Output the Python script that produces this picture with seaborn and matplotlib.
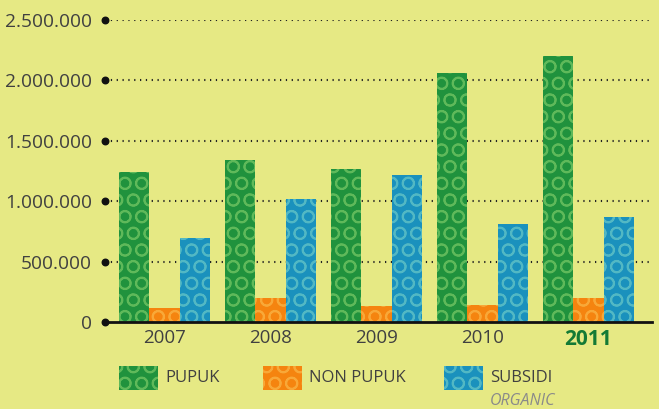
import matplotlib
matplotlib.use("Agg")
import matplotlib.pyplot as plt
import seaborn as sns
import pandas as pd
from matplotlib.patches import Rectangle

years = ["2007", "2008", "2009", "2010", "2011"]
series = ["PUPUK", "NON PUPUK", "SUBSIDI"]
pupuk = [1245000, 1345000, 1270000, 2060000, 2200000]
non_pupuk = [115000, 200000, 133000, 140000, 200000]
subsidi = [695000, 1020000, 1220000, 815000, 872000]

bg = "#E6E984"
fills = {"PUPUK": "#20923D", "NON PUPUK": "#F5840F", "SUBSIDI": "#1A91BD"}
bubbles = {"PUPUK": "#5FB95A", "NON PUPUK": "#F8A838", "SUBSIDI": "#52B8C4"}

df = pd.DataFrame({
    "year": years * 3,
    "series": [s for s in series for _ in years],
    "value": pupuk + non_pupuk + subsidi,
})

sns.set_style("white")
plt.rcParams["font.family"] = ["Open Sans", "DejaVu Sans"]
plt.rcParams["hatch.linewidth"] = 1.3

fig = plt.figure(figsize=(6.59, 4.09), dpi=100, facecolor=bg)
ax = fig.add_axes([105 / 659, 87 / 409, 547 / 659, 302 / 409])
ax.set_facecolor(bg)

ax.set_axisbelow(True)
for v in [500000, 1000000, 1500000, 2000000, 2500000]:
    ax.axhline(v, color="#222222", lw=1.5, ls=(0, (0.6, 2.2)), zorder=0)

sns.barplot(data=df, x="year", y="value", hue="series", palette=fills,
            width=0.86, gap=0, dodge=True, legend=False, ax=ax,
            saturation=1, linewidth=0)

for cont, s in zip(ax.containers, series):
    for bar in cont:
        bar.set_hatch("O")
        bar.set_edgecolor(bubbles[s])
        bar.set_linewidth(0)

ax.set_xlim(-0.56, 4.6)
ax.set_ylim(0, 2500000)
for sp in ["top", "right", "left"]:
    ax.spines[sp].set_visible(False)
ax.spines["bottom"].set_color("#111111")
ax.spines["bottom"].set_linewidth(2)

ax.set_yticks([0, 500000, 1000000, 1500000, 2000000, 2500000])
ax.set_yticklabels(["0", "500.000", "1.000.000", "1.500.000", "2.000.000", "2.500.000"])
ax.tick_params(axis="y", length=0, pad=9.5, labelsize=13.8, labelcolor="#404040")
ax.tick_params(axis="x", length=0, pad=5, labelsize=13.5, labelcolor="#404040")
ax.set_xlabel("")
ax.set_ylabel("")
last = ax.get_xticklabels()[-1]
last.set_fontweight("bold")
last.set_color("#137A35")
last.set_fontsize(15)

# dots at the start of each gridline
ax.scatter([-0.56] * 6, [0, 500000, 1000000, 1500000, 2000000, 2500000],
           s=22, color="#111111", clip_on=False, zorder=5)

# legend
items = [("PUPUK", 119, 165), ("NON PUPUK", 263, 309), ("SUBSIDI", 444, 490)]
for name, x0, tx in items:
    r = Rectangle((x0 / 659, 19 / 409), 39 / 659, 24 / 409, transform=fig.transFigure,
                  facecolor=fills[name], edgecolor=bubbles[name], hatch="O", lw=0)
    fig.patches.append(r)
    fig.text(tx / 659, 31 / 409, name, fontsize=12, color="#404040", va="center")
fig.text(490 / 659, 8 / 409, "ORGANIC", fontsize=11.5, color="#8A8A8A",
         style="italic", va="center")

fig.savefig("out.png", dpi=100, facecolor=bg)
